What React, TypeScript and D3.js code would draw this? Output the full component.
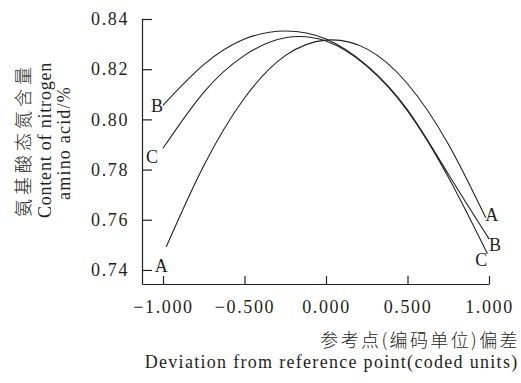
import React, { useEffect, useRef } from "react";
import * as d3 from "d3";

// coded deviation from the reference point
const xA = [-0.98, -0.75, -0.5, -0.25, 0, 0.25, 0.5, 0.75, 0.98];
const xB = [-1.0, -0.75, -0.5, -0.25, 0, 0.25, 0.5, 0.75, 1.0];
const xC = [-1.0, -0.75, -0.5, -0.25, 0, 0.25, 0.5, 0.75, 0.99];

// amino acid nitrogen content, %
const valuesA = [0.7492, 0.7815, 0.8085, 0.8254, 0.8316, 0.8281, 0.8142, 0.7902, 0.7608];
const valuesB = [0.8056, 0.8218, 0.832, 0.8352, 0.832, 0.8215, 0.8038, 0.7782, 0.7524];
const valuesC = [0.7885, 0.8108, 0.8255, 0.8325, 0.8312, 0.8212, 0.8034, 0.777, 0.7465];

const seriesNames = ["A", "B", "C"];
const xTicks = [-1, -0.5, 0, 0.5, 1];
const yTicks = [0.74, 0.76, 0.78, 0.8, 0.82, 0.84];

const yTitleCn = "氨基酸态氮含量";
const yTitleEn1 = "Content of nitrogen";
const yTitleEn2 = "amino acid/%";
const xTitleCn = "参考点(编码单位)偏差";
const xTitleEn = "Deviation from reference point(coded units)";

// label offsets from the start / end of each curve
const labelOffsets = {
  A: { start: [-5, 19], end: [6, -3] },
  B: { start: [-6, 1], end: [6, 6] },
  C: { start: [-11, 9], end: [-6, 6] },
};

const width = 521;
const height = 383;
const ink = "#231f20";
const serif = "'Liberation Serif', 'Times New Roman', serif";
const cjk = "'Noto Sans CJK SC', sans-serif";

export default function App() {
  const xAxisRef = useRef<SVGGElement>(null);
  const yAxisRef = useRef<SVGGElement>(null);

  const x = d3.scaleLinear().domain([-1.1288, 1]).range([142, 489]);
  const y = d3.scaleLinear().domain([0.7344, 0.84]).range([284, 19]);

  const series = [
    { name: seriesNames[0], xs: xA, vs: valuesA },
    { name: seriesNames[1], xs: xB, vs: valuesB },
    { name: seriesNames[2], xs: xC, vs: valuesC },
  ].map((s) => ({ name: s.name, pts: s.xs.map((xv, i) => [xv, s.vs[i]] as [number, number]) }));

  const line = d3
    .line<[number, number]>()
    .x((d) => x(d[0]))
    .y((d) => y(d[1]))
    .curve(d3.curveNatural);

  useEffect(() => {
    const xAxis = d3
      .axisBottom(x)
      .tickValues(xTicks)
      .tickSizeInner(-8)
      .tickSizeOuter(0)
      .tickPadding(16)
      .tickFormat(d3.format(".3f") as any);
    const yAxis = d3
      .axisLeft(y)
      .tickValues(yTicks)
      .tickSizeInner(-10)
      .tickSizeOuter(0)
      .tickPadding(13)
      .tickFormat(d3.format(".2f") as any);

    const gx = d3.select(xAxisRef.current!).call(xAxis);
    const gy = d3.select(yAxisRef.current!).call(yAxis);
    [gx, gy].forEach((g) => {
      g.selectAll("path, line").attr("stroke", ink).attr("stroke-width", 1.2);
      g.selectAll("text")
        .attr("fill", ink)
        .style("font-family", serif)
        .style("font-size", "18px")
        .style("letter-spacing", "1.6px");
      g.attr("font-family", null).attr("font-size", null);
    });
  }, []);

  return (
    <svg
      width={width}
      height={height}
      style={{ position: "absolute", left: 0, top: 0, background: "#fff" }}
    >
      <g ref={xAxisRef} transform={`translate(0,${y.range()[0]})`} />
      <g ref={yAxisRef} transform={`translate(${x.range()[0]},0)`} />

      {series.map((s) => (
        <path key={s.name} d={line(s.pts) || ""} fill="none" stroke={ink} strokeWidth={1.1} />
      ))}

      {series.map((s) => {
        const off = (labelOffsets as any)[s.name];
        const first = s.pts[0];
        const last = s.pts[s.pts.length - 1];
        return (
          <g key={"lab" + s.name} fontFamily={serif} fontSize={18} fill={ink} textAnchor="middle">
            <text x={x(first[0]) + off.start[0]} y={y(first[1]) + off.start[1]} dominantBaseline="central">
              {s.name}
            </text>
            <text x={x(last[0]) + off.end[0]} y={y(last[1]) + off.end[1]} dominantBaseline="central">
              {s.name}
            </text>
          </g>
        );
      })}

      <g fill={ink} textAnchor="middle" dominantBaseline="central">
        <text transform="translate(22,140) rotate(-90)" fontFamily={cjk} fontWeight={300} fontSize={18} letterSpacing={4}>
          {yTitleCn}
        </text>
        <text transform="translate(45,140) rotate(-90)" fontFamily={serif} fontSize={18} letterSpacing={0.8}>
          {yTitleEn1}
        </text>
        <text transform="translate(64,143) rotate(-90)" fontFamily={serif} fontSize={18} letterSpacing={1.2}>
          {yTitleEn2}
        </text>
      </g>

      <text
        x={520}
        y={339}
        textAnchor="end"
        dominantBaseline="central"
        fontFamily={cjk}
        fontWeight={300}
        fontSize={18}
        letterSpacing={2.4}
        fill={ink}
      >
        {xTitleCn}
      </text>
      <text x={518.5} y={368} textAnchor="end" fontFamily={serif} fontSize={18} letterSpacing={1.3} fill={ink}>
        {xTitleEn}
      </text>
    </svg>
  );
}
